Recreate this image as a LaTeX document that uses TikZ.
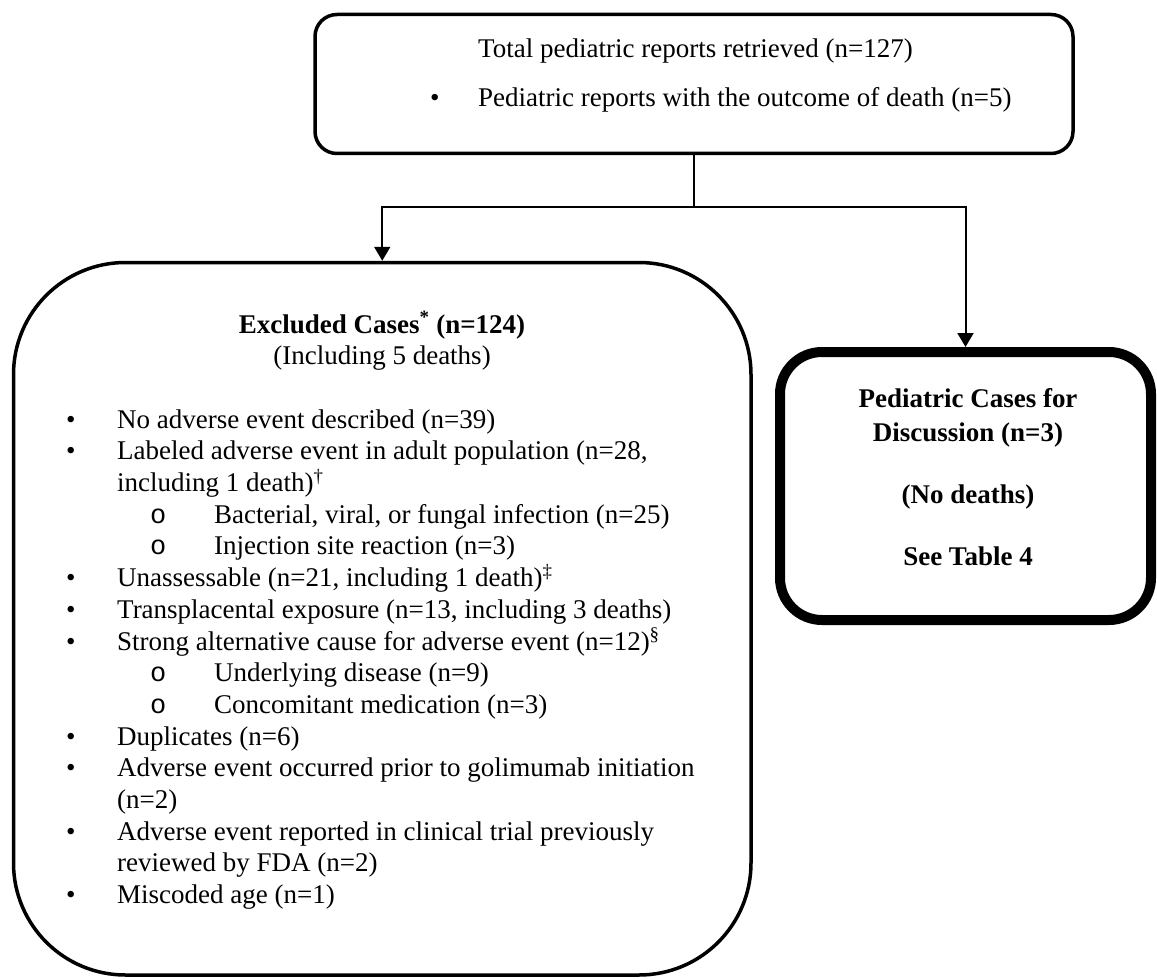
\documentclass[tikz,border=0pt]{standalone}
\usepackage{fontspec}
\setmainfont{Liberation Serif}
\newfontfamily\monofnt{Liberation Mono}
\usetikzlibrary{arrows.meta}
\newcommand\myfs{\fontsize{27}{31.7}\selectfont}
\begin{document}
\begin{tikzpicture}[x=1pt,y=-1pt,
  box/.style={draw, line width=3.5pt, inner sep=0pt},
  lt/.style={anchor=base west, inner sep=0pt, font=\myfs},
  ct/.style={anchor=base, inner sep=0pt, font=\myfs},
  bt/.style={anchor=base, inner sep=0pt, font=\myfs\bfseries},
  sb/.style={anchor=base west, inner sep=0pt, font=\myfs\monofnt},
  link/.style={line width=2pt},
  arr/.style={line width=2pt, -{Triangle[length=14pt,width=16pt]}}]
\useasboundingbox (0,0) rectangle (1157,979);

% boxes
\node[box, rounded corners=22pt, minimum width=758pt, minimum height=139pt] (top) at (694,84) {};
\node[box, rounded corners=112pt, minimum width=737.5pt, minimum height=712.5pt] (exc) at (382.25,618.75) {};
\node[box, line width=10pt, rounded corners=42pt, minimum width=371pt, minimum height=268pt] (ped) at (965.5,486) {};

% connectors
\coordinate (j) at (694,207);
\draw[link] (top.south) -- (j);
\draw[arr] (j) -| (exc.north);
\draw[arr] (j) -| (ped.north);

% top box text
\node[lt] (t1) at (478,58) {Total pediatric reports retrieved (n=127)};
\node[lt] (t2b) at (430,107) {•};
\node[lt] (t2) at (478,107) {Pediatric reports with the outcome of death (n=5)};

% excluded box text
\node[bt] (e1) at (382,333) {Excluded Cases\textsuperscript{*} (n=124)};
\node[ct] (e2) at (382,364.7) {(Including 5 deaths)};

\node[lt] (b1) at (66,428.1) {•};
\node[lt] (l1) at (117,428.1) {No adverse event described (n=39)};
\node[lt] (b2) at (66,459.8) {•};
\node[lt] (l2) at (117,459.8) {Labeled adverse event in adult population (n=28,};
\node[lt] (l3) at (117,491.5) {including 1 death)\textsuperscript{†}};
\node[sb] (s1) at (150,523.2) {o};
\node[lt] (l4) at (214,523.2) {Bacterial, viral, or fungal infection (n=25)};
\node[sb] (s2) at (150,554.9) {o};
\node[lt] (l5) at (214,554.9) {Injection site reaction (n=3)};
\node[lt] (b3) at (66,586.6) {•};
\node[lt] (l6) at (117,586.6) {Unassessable (n=21, including 1 death)\textsuperscript{‡}};
\node[lt] (b4) at (66,618.3) {•};
\node[lt] (l7) at (117,618.3) {Transplacental exposure (n=13, including 3 deaths)};
\node[lt] (b5) at (66,650) {•};
\node[lt] (l8) at (117,650) {Strong alternative cause for adverse event (n=12)\textsuperscript{§}};
\node[sb] (s3) at (150,681.7) {o};
\node[lt] (l9) at (214,681.7) {Underlying disease (n=9)};
\node[sb] (s4) at (150,713.4) {o};
\node[lt] (l10) at (214,713.4) {Concomitant medication (n=3)};
\node[lt] (b6) at (66,745.1) {•};
\node[lt] (l11) at (117,745.1) {Duplicates (n=6)};
\node[lt] (b7) at (66,776.8) {•};
\node[lt] (l12) at (117,776.8) {Adverse event occurred prior to golimumab initiation};
\node[lt] (l13) at (117,808.5) {(n=2)};
\node[lt] (b8) at (66,840.2) {•};
\node[lt] (l14) at (117,840.2) {Adverse event reported in clinical trial previously};
\node[lt] (l15) at (117,871.9) {reviewed by FDA (n=2)};
\node[lt] (b9) at (66,903.6) {•};
\node[lt] (l16) at (117,903.6) {Miscoded age (n=1)};

% pediatric box text
\node[bt] (p1) at (968,407) {Pediatric Cases for};
\node[bt] (p2) at (968,441) {Discussion (n=3)};
\node[bt] (p3) at (968,503) {(No deaths)};
\node[bt] (p4) at (968,565) {See Table 4};
\end{tikzpicture}
\end{document}
